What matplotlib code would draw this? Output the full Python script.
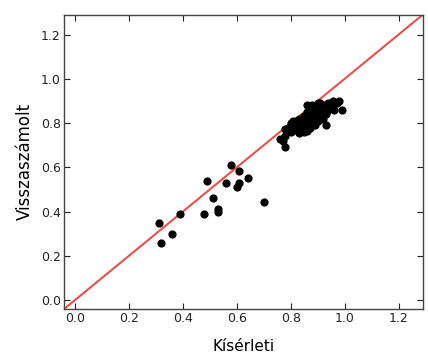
import numpy as np
import matplotlib
matplotlib.use('Agg')
import matplotlib.pyplot as plt

# scattered low-range measurements
low_x = [0.31, 0.32, 0.36, 0.39, 0.48, 0.49, 0.51, 0.53, 0.53, 0.56,
         0.58, 0.60, 0.61, 0.61, 0.64, 0.70]
low_y = [0.35, 0.26, 0.30, 0.39, 0.39, 0.54, 0.46, 0.41, 0.40, 0.53,
         0.61, 0.51, 0.53, 0.585, 0.55, 0.445]

# dense high-range cluster
high_x = [0.76, 0.77, 0.78, 0.78, 0.78, 0.79, 0.80, 0.80, 0.81, 0.81,
          0.82, 0.82, 0.82, 0.83, 0.83, 0.83, 0.83, 0.84, 0.84, 0.84,
          0.84, 0.85, 0.85, 0.85, 0.85, 0.85, 0.86, 0.86, 0.86, 0.86,
          0.86, 0.86, 0.87, 0.87, 0.87, 0.87, 0.87, 0.87, 0.88, 0.88,
          0.88, 0.88, 0.88, 0.88, 0.88, 0.89, 0.89, 0.89, 0.89, 0.89,
          0.90, 0.90, 0.90, 0.90, 0.90, 0.91, 0.91, 0.91, 0.91, 0.92,
          0.92, 0.92, 0.93, 0.93, 0.93, 0.94, 0.94, 0.95, 0.955, 0.96,
          0.97, 0.98, 0.99]
high_y = [0.73, 0.72, 0.69, 0.74, 0.775, 0.78, 0.80, 0.76, 0.81, 0.79,
          0.80, 0.77, 0.81, 0.755, 0.79, 0.80, 0.82, 0.78, 0.80, 0.81,
          0.77, 0.79, 0.82, 0.83, 0.80, 0.76, 0.765, 0.81, 0.84, 0.88,
          0.83, 0.85, 0.80, 0.82, 0.84, 0.86, 0.87, 0.78, 0.81, 0.83,
          0.85, 0.86, 0.87, 0.88, 0.79, 0.82, 0.84, 0.86, 0.87, 0.79,
          0.83, 0.85, 0.88, 0.89, 0.81, 0.84, 0.86, 0.87, 0.89, 0.85,
          0.88, 0.82, 0.84, 0.87, 0.79, 0.86, 0.89, 0.87, 0.90, 0.86,
          0.89, 0.90, 0.86]

ticks = [0.0, 0.2, 0.4, 0.6, 0.8, 1.0, 1.2]
lims = (-0.04, 1.29)

x = np.array(low_x + high_x)
y = np.array(low_y + high_y)

fig = plt.figure(figsize=(4.28, 3.58), dpi=100)
ax = fig.add_axes([0.150, 0.137, 0.838, 0.822])

ax.plot([-0.1, 1.4], [-0.1, 1.4], color='#e8504a', lw=1.5, zorder=1)
ax.scatter(x, y, s=24, color='black', zorder=2)

ax.set_xlim(*lims)
ax.set_ylim(*lims)
ax.set_xticks(ticks)
ax.set_yticks(ticks)
ax.tick_params(direction='in', top=True, right=True, labelsize=9,
               length=4, colors='#222222', pad=2.5)
for sp in ax.spines.values():
    sp.set_color('#444444')
    sp.set_linewidth(1.0)

ax.set_xlabel('Kísérleti', fontsize=11, labelpad=10)
ax.set_ylabel('Visszaszámolt', fontsize=12, labelpad=5)

fig.savefig('out.png', dpi=100)
